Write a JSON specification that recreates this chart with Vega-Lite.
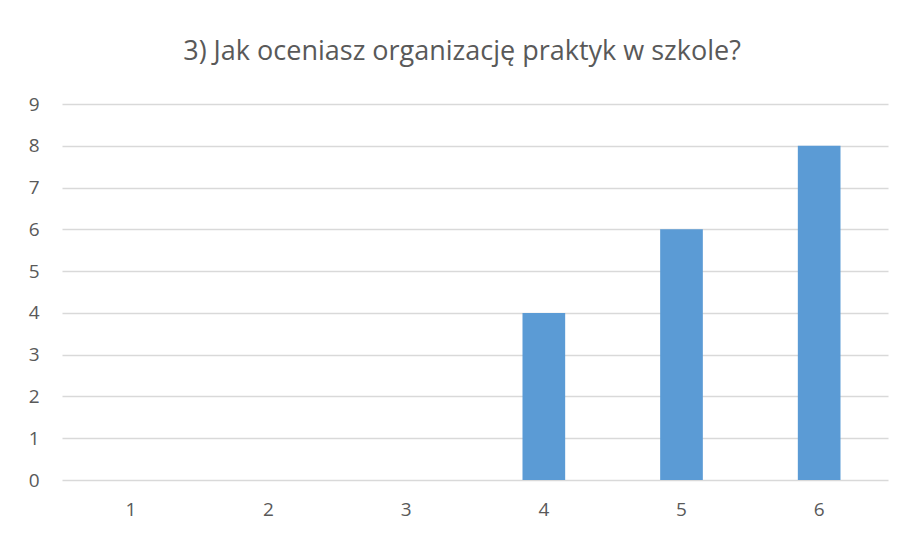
{
  "$schema": "https://vega.github.io/schema/vega-lite/v6.json",
  "width": 826,
  "height": 376,
  "autosize": "none",
  "padding": {"left": 62, "top": 104, "right": 18, "bottom": 54},
  "background": "white",
  "title": {
    "text": "3) Jak oceniasz organizację praktyk w szkole?",
    "font": "Open Sans",
    "fontSize": 27,
    "fontWeight": "normal",
    "color": "#595959",
    "anchor": "middle",
    "dx": -13,
    "offset": 29
  },
  "data": {
    "values": [
      {"ocena": "1", "liczba": 0},
      {"ocena": "2", "liczba": 0},
      {"ocena": "3", "liczba": 0},
      {"ocena": "4", "liczba": 4},
      {"ocena": "5", "liczba": 6},
      {"ocena": "6", "liczba": 8}
    ]
  },
  "mark": {"type": "bar", "color": "#5b9bd5"},
  "encoding": {
    "x": {
      "field": "ocena",
      "type": "ordinal",
      "sort": null,
      "scale": {"paddingInner": 0.69, "paddingOuter": 0.345},
      "axis": {
        "title": null,
        "labelAngle": 0,
        "domain": false,
        "ticks": false,
        "labelPadding": 20,
        "labelFont": "Open Sans",
        "labelFontSize": 19,
        "labelColor": "#595959"
      }
    },
    "y": {
      "field": "liczba",
      "type": "quantitative",
      "scale": {"domain": [0, 9], "nice": false},
      "axis": {
        "title": null,
        "values": [0, 1, 2, 3, 4, 5, 6, 7, 8, 9],
        "domain": false,
        "ticks": false,
        "labelPadding": 23,
        "labelFont": "Open Sans",
        "labelFontSize": 19,
        "labelColor": "#595959",
        "gridColor": "#d9d9d9",
        "gridWidth": 1.3
      }
    }
  },
  "config": {"view": {"stroke": null}}
}
